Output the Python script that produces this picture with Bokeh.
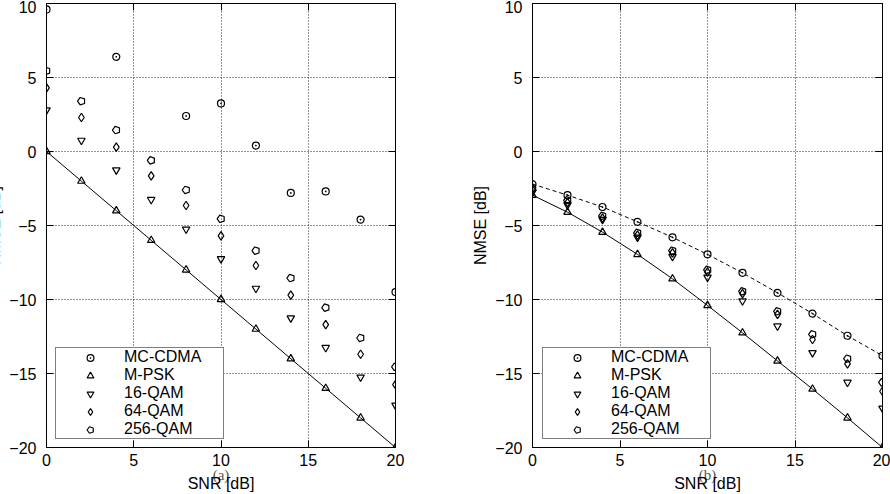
import math
from bokeh.plotting import figure
from bokeh.models import Range1d, LinearAxis, FixedTicker, Legend, LegendItem
from bokeh.layouts import row
from bokeh.embed import file_html
from bokeh.resources import INLINE

# ---- data -------------------------------------------------------------
snr = [0, 2, 4, 6, 8, 10, 12, 14, 16, 18, 20]

# panel (a)
a_snr_mccdma = [0, 4, 8, 10, 12, 14, 16, 18, 20]
a_mccdma = [9.6, 6.4, 2.4, 3.25, 0.4, -2.8, -2.7, -4.6, -9.5]
a_mpsk = [0, -2, -4, -6, -8, -10, -12, -14, -16, -18, -20]
a_qam16 = [2.8, 0.75, -1.25, -3.25, -5.25, -7.25, -9.25, -11.25, -13.25, -15.25, -17.15]
a_qam64 = [4.3, 2.3, 0.3, -1.65, -3.65, -5.7, -7.7, -9.7, -11.7, -13.7, -15.75]
a_qam256 = [5.45, 3.4, 1.45, -0.6, -2.6, -4.55, -6.7, -8.55, -10.55, -12.6, -14.55]

# panel (b)
b_mccdma = [-2.2, -2.95, -3.75, -4.75, -5.8, -6.95, -8.2, -9.55, -10.95, -12.45, -13.8]
b_mpsk = [-2.95, -4.1, -5.45, -6.95, -8.6, -10.4, -12.25, -14.15, -16.05, -18.0, -20.0]
b_qam16 = [-2.75, -3.6, -4.6, -5.8, -7.1, -8.5, -10.1, -11.8, -13.6, -15.6, -17.35]
b_qam64 = [-2.6, -3.45, -4.5, -5.65, -6.85, -8.15, -9.6, -11.0, -12.7, -14.35, -16.2]
b_qam256 = [-2.5, -3.3, -4.35, -5.5, -6.7, -8.0, -9.45, -10.8, -12.35, -14.0, -15.6]

x_ticks = [0, 5, 10, 15, 20]
y_ticks = [-20, -15, -10, -5, 0, 5, 10]
series_names = ["MC-CDMA", "M-PSK", "16-QAM", "64-QAM", "256-QAM"]

FONT = "Liberation Sans"
FS = "16px"
INK = "#000000"


def tick_style(ax, labels=True, standoff=8):
    ax.axis_line_color = INK
    ax.major_tick_in = 7
    ax.major_tick_out = 0
    ax.minor_tick_in = 0
    ax.minor_tick_out = 0
    ax.major_tick_line_color = INK
    if labels:
        ax.major_label_text_font = FONT
        ax.major_label_text_font_size = FS
        ax.major_label_text_color = INK
        ax.major_label_standoff = standoff
    else:
        ax.major_label_text_font_size = "0px"
        ax.major_label_standoff = 0


def label_style(ax, font=FONT, size=FS, color=INK):
    ax.axis_label_text_font = font
    ax.axis_label_text_font_size = size
    ax.axis_label_text_font_style = "normal"
    ax.axis_label_text_color = color


def make_panel(width, border_left, border_right, tag):
    p = figure(width=width, height=494, output_backend="svg", toolbar_location=None,
               x_range=Range1d(0, 20), y_range=Range1d(-20, 10),
               min_border_left=border_left, min_border_right=border_right,
               min_border_top=3, min_border_bottom=46)
    p.outline_line_color = INK
    p.background_fill_color = "white"
    p.border_fill_color = "white"

    xa, ya = p.xaxis[0], p.yaxis[0]
    xa.ticker = FixedTicker(ticks=x_ticks)
    ya.ticker = FixedTicker(ticks=y_ticks)
    tick_style(xa, standoff=6)
    tick_style(ya, standoff=10)

    # mirrored ticks on the top and right edges
    for side, ticks in (("above", x_ticks), ("right", y_ticks)):
        ax = LinearAxis(ticker=FixedTicker(ticks=ticks))
        tick_style(ax, labels=False)
        p.add_layout(ax, side)

    p.xgrid[0].ticker = FixedTicker(ticks=x_ticks)
    p.ygrid[0].ticker = FixedTicker(ticks=y_ticks)
    for g in (p.xgrid[0], p.ygrid[0]):
        g.grid_line_color = INK
        g.grid_line_dash = "1 2"
        g.grid_line_width = 1
        g.grid_line_alpha = 0.85

    ya.axis_label = "NMSE [dB]"
    ya.axis_label_standoff = 3
    label_style(ya)

    # panel tag right under the tick labels, the x title overlapping it from below
    xa.axis_label = tag
    xa.axis_label_standoff = -2
    label_style(xa, font="Liberation Serif", size="15px", color="#555555")

    title_axis = LinearAxis(ticker=FixedTicker(ticks=[]), axis_label="SNR [dB]",
                            axis_label_standoff=-11, axis_line_color=None,
                            major_tick_in=0, major_tick_out=0,
                            minor_tick_in=0, minor_tick_out=0,
                            major_label_text_font_size="0px", major_label_standoff=0)
    label_style(title_axis)
    p.add_layout(title_axis, "below")
    return p


def add_markers(p, xs_mc, mc, mpsk, q16, q64, q256):
    mk = dict(line_color=INK, line_width=1.2, fill_alpha=0)
    r_mc = p.scatter(xs_mc, mc, marker="circle_dot", size=7, **mk)
    r_psk = p.scatter(snr, mpsk, marker="triangle", size=7.5, **mk)
    r_16 = p.scatter(snr, q16, marker="inverted_triangle", size=7.5, **mk)
    r_64 = p.scatter(snr, q64, marker="diamond", size=8.5, **mk)
    r_256 = p.ngon(snr, q256, radius=3.9, radius_units="screen", n=5,
                   angle=math.pi / 2, **mk)
    return [r_mc, r_psk, r_16, r_64, r_256]


def add_legend(p, renderers, loc):
    items = [LegendItem(label=n, renderers=[r]) for n, r in zip(series_names, renderers)]
    leg = Legend(items=items, location=loc, padding=0, margin=0,
                 glyph_width=68, glyph_height=17, label_height=17, label_width=99,
                 label_standoff=0, spacing=0,
                 label_text_font=FONT, label_text_font_size=FS, label_text_color=INK,
                 border_line_color=INK, border_line_width=1,
                 background_fill_color="white", background_fill_alpha=1)
    p.add_layout(leg)


# ---- panel (a): wide left border, pulled left so its y title runs off the page ----
LEFT_PULL = 44
pa = make_panel(445 + LEFT_PULL, 46 + LEFT_PULL, 50, "(a)")
pa.margin = (0, 0, 0, -LEFT_PULL)
pa.line(snr, a_mpsk, line_color=INK, line_width=1)
ra = add_markers(pa, a_snr_mccdma, a_mccdma, a_mpsk, a_qam16, a_qam64, a_qam256)
add_legend(pa, ra, (9, 8))

# ---- panel (b) --------------------------------------------------------
pb = make_panel(445, 87, 8, "(b)")
pb.line(snr, b_mpsk, line_color=INK, line_width=1)
pb.line(snr, b_mccdma, line_color=INK, line_width=1, line_dash="4 3")
rb = add_markers(pb, snr, b_mccdma, b_mpsk, b_qam16, b_qam64, b_qam256)
add_legend(pb, rb, (10, 8))

layout = row(pa, pb)
open("out.html", "w").write(file_html(layout, INLINE))
